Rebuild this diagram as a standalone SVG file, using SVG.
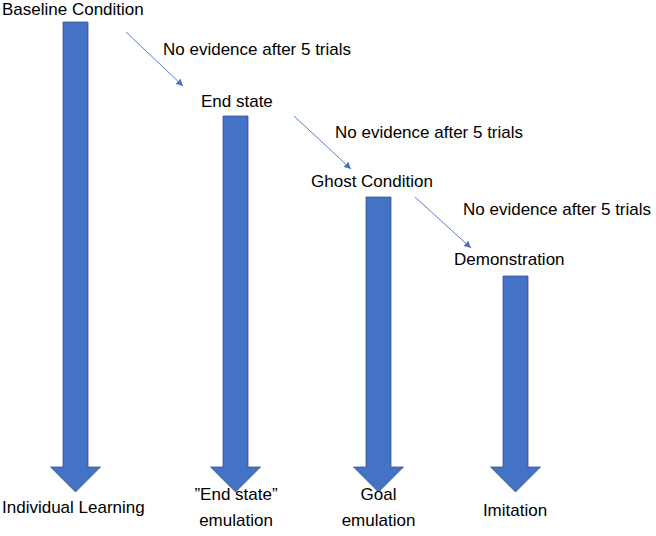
<svg xmlns="http://www.w3.org/2000/svg" width="656" height="536" viewBox="0 0 656 536">
<style>
text{font-family:"Liberation Sans",Arial,sans-serif;font-size:17px;fill:#000}
.blk{fill:#4472C4;stroke:#2F528F;stroke-width:0.75}
.con{stroke:#4472C4;stroke-width:0.9;fill:none}
</style>
<defs>
<marker id="ah" viewBox="0 0 10 10" refX="10" refY="5" markerWidth="7" markerHeight="7" markerUnits="userSpaceOnUse" orient="auto">
<path d="M0,0 L10,5 L0,10 z" fill="#4472C4"/>
</marker>
</defs>
<rect width="656" height="536" fill="#fff"/>
<g id="baseline">
<text x="2" y="15">Baseline Condition</text>
<path class="blk" d="M63,22 H88 V467 H100.5 L75.5,492 L50.5,467 H63 Z"/>
<text x="2" y="513">Individual Learning</text>
</g>
<g id="endstate">
<text x="201" y="107">End state</text>
<path class="blk" d="M223,116 H248 V467 H260.5 L235.5,492 L210.5,467 H223 Z"/>
<text x="236" y="500" text-anchor="middle">”End state”</text>
<text x="236" y="526" text-anchor="middle">emulation</text>
</g>
<g id="ghost">
<text x="311" y="187">Ghost Condition</text>
<path class="blk" d="M366,197 H391 V467 H403.5 L378.5,492 L353.5,467 H366 Z"/>
<text x="378.5" y="500" text-anchor="middle">Goal</text>
<text x="378.5" y="526" text-anchor="middle">emulation</text>
</g>
<g id="demo">
<text x="454" y="265">Demonstration</text>
<path class="blk" d="M503,276 H528 V467 H540.5 L515.5,492 L490.5,467 H503 Z"/>
<text x="515" y="516" text-anchor="middle">Imitation</text>
</g>
<g id="connectors">
<line class="con" x1="126" y1="32" x2="183" y2="86" marker-end="url(#ah)"/>
<line class="con" x1="294" y1="116" x2="351" y2="169" marker-end="url(#ah)"/>
<line class="con" x1="415" y1="197" x2="471" y2="248" marker-end="url(#ah)"/>
<text x="163" y="55">No evidence after 5 trials</text>
<text x="335" y="138">No evidence after 5 trials</text>
<text x="463" y="215">No evidence after 5 trials</text>
</g>
</svg>
